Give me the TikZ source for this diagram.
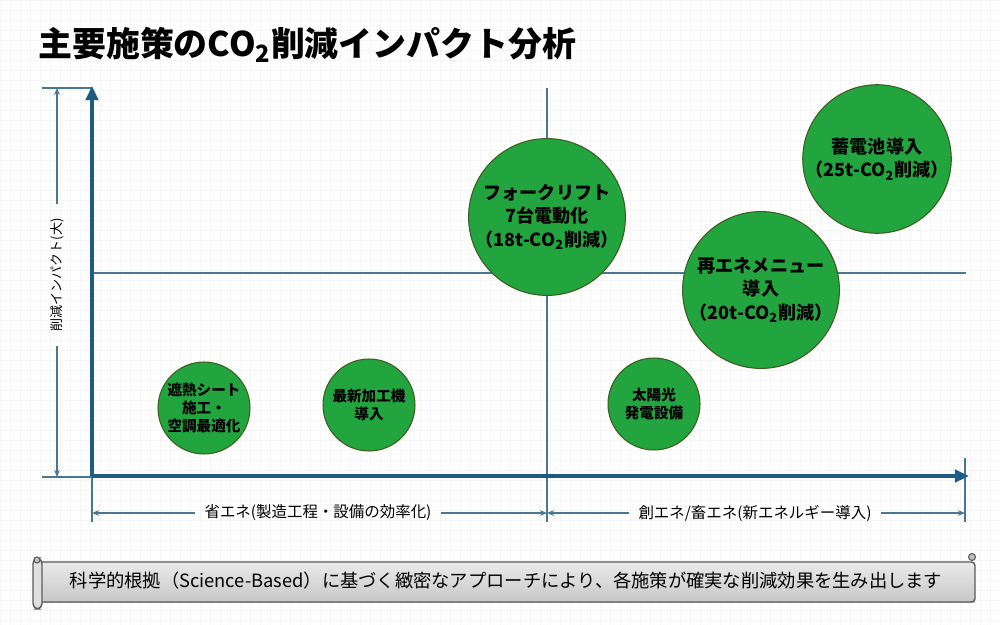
\documentclass[tikz,border=0pt]{standalone}
\usepackage{fontspec}
\setmainfont{Noto Sans CJK JP}
\usetikzlibrary{arrows.meta}
\definecolor{axisblue}{RGB}{31,92,132}
\definecolor{thinblue}{RGB}{74,118,150}
\definecolor{bubblegreen}{RGB}{34,164,62}
\definecolor{bubbleedge}{RGB}{62,92,30}
\definecolor{scrollgray}{RGB}{214,214,214}
\definecolor{scrolledge}{RGB}{90,90,90}
\begin{document}
\begin{tikzpicture}[x=0.02cm,y=-0.02cm,
  axisline/.style={axisblue,line width=2.3pt,-{Triangle[length=8pt,width=7pt]}},
  thinline/.style={thinblue,line width=0.7pt},
  dimline/.style={thinblue,line width=0.7pt,-{Stealth[length=4pt,width=3.2pt]}},
  bigbubble/.style={circle,fill=bubblegreen,draw=bubbleedge,line width=0.6pt,
    minimum size=2.92cm,inner sep=0pt,align=center,
    font=\bfseries\fontsize{10.3pt}{13.3pt}\selectfont},
  smallbubble/.style={circle,fill=bubblegreen,draw=bubbleedge,line width=0.6pt,
    minimum size=1.84cm,inner sep=0pt,align=center,
    font=\bfseries\fontsize{8.3pt}{10.2pt}\selectfont},
  axlabel/.style={font=\fontsize{8.8pt}{10pt}\selectfont,inner sep=5pt},
]
\useasboundingbox (0,0) rectangle (1000,625);
\fill[white] (0,0) rectangle (1000,625);
% faint background grid
\foreach \x in {0,10,...,1000} \draw[black!4,line width=0.3pt] (\x,0) -- (\x,625);
\foreach \y in {0,10,...,620} \draw[black!4,line width=0.3pt] (0,\y) -- (1000,\y);

% title
\node[anchor=west,inner sep=0pt,font=\bfseries\fontsize{19.3pt}{23pt}\selectfont] (title) at (38,45) {主要施策のCO\textsubscript{2}削減インパクト分析};

% reference coordinates
\coordinate (O) at (92,476);
\coordinate (ytop) at (92,86);
\coordinate (xend) at (969,476);
\coordinate (ext1a) at (42,88);
\coordinate (ext1b) at (92,88);
\coordinate (ext2a) at (42,477);
\coordinate (ext2b) at (92,477);
\coordinate (dimtop) at (57,88);
\coordinate (dimbot) at (57,477);
\coordinate (midtop) at (547,88);
\coordinate (midbot) at (547,522);
\coordinate (hleft) at (92,273);
\coordinate (hright) at (966,273);
\coordinate (exL) at (92,522);
\coordinate (exLt) at (92,476);
\coordinate (exR) at (965,522);
\coordinate (exRt) at (965,458);
\coordinate (dL) at (92,513);
\coordinate (dM1) at (547,513);
\coordinate (dM2) at (547,513);
\coordinate (dR) at (965,513);

% guide lines
\draw[thinline] (midtop) -- (midbot);
\draw[thinline] (hleft) -- (hright);
\draw[thinline] (ext1a) -- (ext1b);
\draw[thinline] (ext2a) -- (ext2b);
\draw[thinline] (exLt) -- (exL);
\draw[thinline] (exRt) -- (exR);

% y dimension
\node[rotate=90,font=\fontsize{7.4pt}{9pt}\selectfont,inner sep=8pt] (ylab) at (57,275) {削減インパクト(大)};
\draw[dimline] (ylab.east) -- (dimtop);
\draw[dimline] (ylab.west) -- (dimbot);

% x dimensions
\node[axlabel] (lab1) at (318,513) {省エネ(製造工程・設備の効率化)};
\node[axlabel] (lab2) at (755,513) {創エネ/畜エネ(新エネルギー導入)};
\draw[dimline] (lab1.west) -- (dL);
\draw[dimline] (lab1.east) -- (dM1);
\draw[dimline] (lab2.west) -- (dM2);
\draw[dimline] (lab2.east) -- (dR);

% axes
\draw[axisline] (O) -- (ytop);
\draw[axisline] (O) -- (xend);

% bubbles
\node[smallbubble] (b1) at (204,408) {遮熱シート\\施工・\\空調最適化};
\node[smallbubble] (b2) at (369,405) {最新加工機\\導入};
\node[smallbubble] (b3) at (654,404) {太陽光\\発電設備};
\node[bigbubble] (b4) at (547,217) {フォークリフト\\7台電動化\\（18t-CO\textsubscript{2}削減）};
\node[bigbubble] (b5) at (761,290) {再エネメニュー\\導入\\（20t-CO\textsubscript{2}削減）};
\node[bigbubble] (b6) at (877,159) {蓄電池導入\\（25t-CO\textsubscript{2}削減）};

% scroll banner
\fill[scrollgray] (40,562) rectangle (975,602);
\shade[top color=black!8,bottom color=black!22] (40,562) rectangle (975,602);
\draw[scrolledge,line width=0.8pt,rounded corners=2pt] (40,562) -- (975,562) -- (975,602) -- (40,602);
\draw[scrolledge,line width=0.8pt,fill=black!12,rounded corners=3pt] (33,558) rectangle (42,609);
\draw[scrolledge,line width=0.6pt,fill=black!25] (37,560) circle (3);
\draw[scrolledge,line width=0.6pt,fill=black!25] (972,557) circle (3.5);
\node[font=\fontsize{10.4pt}{12pt}\selectfont,inner sep=0pt] (msg) at (506,581) {科学的根拠（Science-Based）に基づく緻密なアプローチにより、各施策が確実な削減効果を生み出します};
\end{tikzpicture}
\end{document}
